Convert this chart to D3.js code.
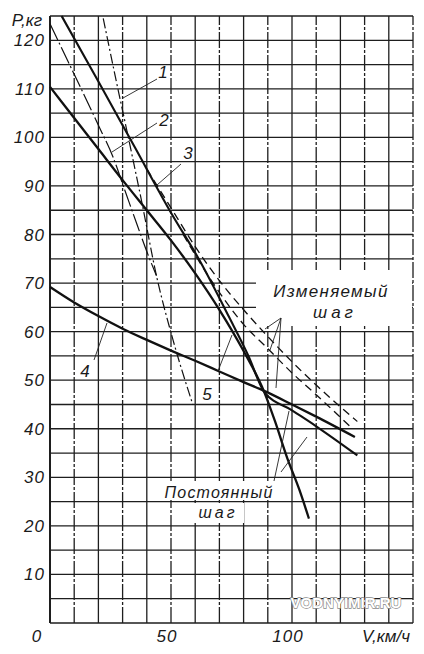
<!DOCTYPE html>
<html>
<head>
<meta charset="utf-8">
<script src="https://cdn.jsdelivr.net/npm/d3@7"></script>
<style>
  body { margin: 0; background: #fff; }
  text { font-family: 'Liberation Sans', 'DejaVu Sans', sans-serif; font-style: italic; fill: #1a1a1a; }
</style>
</head>
<body>
<div id="graph"></div>
<script>
'use strict';

// V, km/h vs P, kg
let curve1 = [[22, 124.5], [27, 112.5], [33, 98.5], [38, 86.5], [44, 71.5], [51, 58], [59, 45]];
let curve2 = [[0, 123.4], [10, 113], [20, 102.5], [26, 96], [31, 89], [36, 82], [40, 76.5], [44, 71.5]];
let curve3 = [[4.8, 125], [20, 111.5], [35, 98], [50, 84.5], [62, 74.5], [74, 63], [82, 55], [88.5, 47.6],
              [100, 43.8], [110, 40.5], [127, 34.5]];
let curve4 = [[0, 69.2], [10, 66], [20, 63.2], [30, 60.6], [40, 58.3], [50, 56.1], [60, 54], [70, 51.8],
              [80, 49.6], [88.5, 47.8], [100, 45], [110, 42.5], [126, 38.3]];
let curve5 = [[0, 110.4], [10, 104], [20, 97.6], [30, 91.2], [40, 85], [50, 78.8], [60, 72], [70, 64.5],
              [80, 56], [88.5, 47.6], [93, 41.5], [98, 34], [103, 27.5], [107, 21.5]];
let varPitch1 = [[40, 93.5], [50, 85.5], [60, 77.5], [70, 70.5], [80, 64.5], [90, 59], [100, 53.8],
                 [110, 49], [120, 44.5], [127, 41.5]];
let varPitch2 = [[55, 80], [66.7, 70.5], [80, 61.5], [90, 56.5], [100, 51.5], [110, 47], [125, 40]];

let yTicks = [10, 20, 30, 40, 50, 60, 70, 80, 90, 100, 110, 120];
let xTicks = [0, 50, 100];

let svgContainer = d3.select('#graph')
  .append('svg')
  .attr('width', 424)
  .attr('height', 654);

let xScale = d3.scaleLinear().domain([0, 150]).range([50, 413]);
let yScale = d3.scaleLinear().domain([0, 125]).range([623, 16]);

function drawGrid() {
  let g = svgContainer.append('g')
    .attr('stroke', '#1e1e1e')
    .attr('stroke-width', 1.3);

  g.selectAll('.hline')
    .data(d3.range(0, 126, 5))
    .enter()
    .append('line')
      .attr('x1', xScale(0))
      .attr('x2', xScale(150))
      .attr('y1', d => yScale(d))
      .attr('y2', d => yScale(d));

  g.selectAll('.vline')
    .data(d3.range(0, 151, 10))
    .enter()
    .append('line')
      .attr('x1', d => xScale(d))
      .attr('x2', d => xScale(d))
      .attr('y1', yScale(0))
      .attr('y2', yScale(125))
      .attr('stroke-dasharray', d => (d % 20 == 10) ? '16,2,3,2' : null);

  // left axis is a bit heavier
  g.append('line')
    .attr('x1', xScale(0)).attr('x2', xScale(0))
    .attr('y1', yScale(0)).attr('y2', yScale(125))
    .attr('stroke-width', 2);
}

function blank(x, y, w, h) {
  svgContainer.append('rect')
    .attr('x', x).attr('y', y)
    .attr('width', w).attr('height', h)
    .attr('fill', '#fff');
}

function drawCurve(points, width, dash) {
  let line = d3.line()
    .x(d => xScale(d[0]))
    .y(d => yScale(d[1]))
    .curve(d3.curveMonotoneX);
  svgContainer.append('path')
    .datum(points)
    .attr('d', line)
    .attr('fill', 'none')
    .attr('stroke', '#111')
    .attr('stroke-width', width)
    .attr('stroke-dasharray', dash);
}

function leader(x1, y1, x2, y2) {
  svgContainer.append('line')
    .attr('x1', x1).attr('y1', y1)
    .attr('x2', x2).attr('y2', y2)
    .attr('stroke', '#222')
    .attr('stroke-width', 0.9);
}

function label(x, y, txt, size, spacing) {
  svgContainer.append('text')
    .attr('x', x)
    .attr('y', y)
    .attr('text-anchor', 'middle')
    .style('font-size', size + 'px')
    .style('letter-spacing', (spacing || 0) + 'px')
    .text(txt);
}

function drawAxisLabels() {
  svgContainer.selectAll('.ylab')
    .data(yTicks)
    .enter()
    .append('text')
      .attr('x', 45)
      .attr('y', d => yScale(d) + 6)
      .attr('text-anchor', 'end')
      .style('font-size', '17px')
      .style('letter-spacing', '1px')
      .text(d => d);

  svgContainer.selectAll('.xlab')
    .data(xTicks)
    .enter()
    .append('text')
      .attr('x', d => xScale(d) - (d == 0 ? 13 : 4))
      .attr('y', 642)
      .attr('text-anchor', 'middle')
      .style('font-size', '17px')
      .style('letter-spacing', '1px')
      .text(d => d);

  label(27, 26, 'P,кг', 17);
  label(386, 642, 'V,км/ч', 17);
}

drawGrid();

// text areas cut out of the grid
blank(256, 270, 156, 56);
blank(156, 481, 128, 19);
blank(190, 503, 54, 20);

drawCurve(curve4, 2.3, null);
drawCurve(curve5, 2.3, null);
drawCurve(curve3, 2.1, null);
drawCurve(curve2, 1.2, '18,3,2,3');
drawCurve(curve1, 1.2, '10,3,2,3');
drawCurve(varPitch1, 1.3, '8,5');
drawCurve(varPitch2, 1.3, '8,5');

// curve numbers
label(163, 78, '1', 17);
leader(157, 79, 123, 98);
label(164, 126, '2', 17);
leader(157, 123, 112, 152);
label(188, 159, '3', 17);
leader(181, 164, 157, 185);
label(85, 377, '4', 17);
leader(94, 360, 107, 323);
label(207, 400, '5', 17);
leader(218, 371, 232, 335);

label(331, 297, 'Изменяемый', 17, 1.3);
label(335, 318, 'шаг', 17, 4);
leader(281, 318, 265, 329);
leader(281, 318, 270, 350);
leader(281, 318, 276, 388);

label(219, 498, 'Постоянный', 16, 1.2);
label(218, 518, 'шаг', 16, 3);
leader(274, 481, 289, 411);
leader(281, 472, 307, 437);

drawAxisLabels();

// watermark
svgContainer.append('text')
  .attr('x', 346)
  .attr('y', 608)
  .attr('text-anchor', 'middle')
  .style('font-size', '15px')
  .style('font-style', 'normal')
  .style('font-weight', 'bold')
  .style('fill', '#fff')
  .style('stroke', '#8a8a8a')
  .style('stroke-width', 1.3)
  .style('paint-order', 'stroke')
  .text('VODNYIMIR.RU');
</script>
</body>
</html>
